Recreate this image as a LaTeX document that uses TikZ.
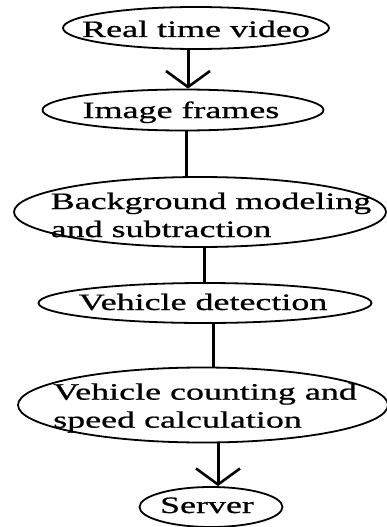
\documentclass[tikz,border=0pt]{standalone}
\usepackage{fontspec}
\newfontfamily\flowfont[FakeStretch=1.53,FakeBold=0.8]{Liberation Serif}
\usepackage{tikz}
\usetikzlibrary{arrows.meta, calc, shapes.geometric}

\begin{document}
\begin{tikzpicture}[x=1pt,y=-1pt,
    stage/.style={draw,ellipse,line width=1.8pt,inner sep=0pt},
    stagetext/.style={font=\flowfont\fontsize{23.5}{28}\selectfont,
      align=left,inner sep=0pt},
    link/.style={line width=3pt},
    flowarrow/.style={line width=3pt,
      -{Straight Barb[length=16pt,width=44pt,line width=2.6pt]}}]
  \useasboundingbox (0,0) rectangle (386,527);
  \node[stage,minimum width=266,minimum height=42] (rtv) at (196,28) {};
  \node[stage,minimum width=281,minimum height=41] (frames) at (183,110) {};
  \node[stage,minimum width=372,minimum height=70] (bgsub) at (200,212) {};
  \node[stage,minimum width=333,minimum height=40] (detect) at (205,303) {};
  \node[stage,minimum width=370,minimum height=75] (count) at (203,405) {};
  \node[stage,minimum width=143,minimum height=40] (server) at (211,507) {};
  \node[stagetext,anchor=base] (rtvtxt) at (196,37) {Real time video};
  \node[stagetext,anchor=base] (framestxt) at (181,118) {Image frames};
  \node[stagetext] (bgsubtxt) at (211,215)
    {Background modeling\\and subtraction};
  \node[stagetext,anchor=base] (detecttxt) at (203,310) {Vehicle detection};
  \node[stagetext] (counttxt) at (205,408)
    {Vehicle counting and\\speed calculation};
  \node[stagetext,anchor=base] (servertxt) at (207,513) {Server};
  \draw[flowarrow] ([xshift=-8]rtv.south) -- ([xshift=-8]rtv.south |- frames.north);
  \draw[link] ([xshift=3]frames.south) -- ([xshift=3]frames.south |- bgsub.north);
  \draw[link] ([xshift=4]bgsub.south) -- ([xshift=4]bgsub.south |- detect.north);
  \draw[link] ([xshift=8]detect.south) -- ([xshift=8]detect.south |- count.north);
  \draw[flowarrow] ([xshift=15]count.south) -- ([xshift=15]count.south |- server.north);
\end{tikzpicture}
\end{document}
